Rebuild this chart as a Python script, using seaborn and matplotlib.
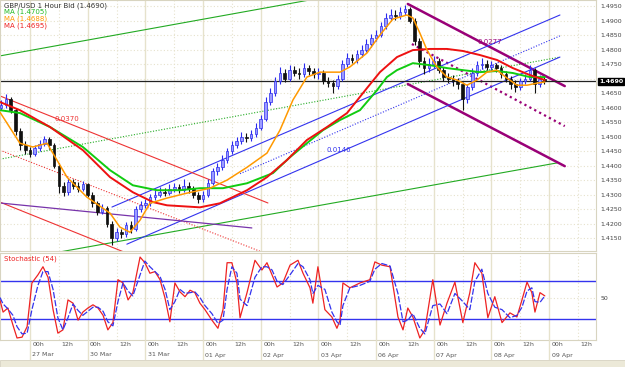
import matplotlib
matplotlib.use('agg')
import matplotlib.pyplot as plt
import matplotlib.transforms as mtransforms
from matplotlib.patches import Rectangle
import pandas as pd
import seaborn as sns

# time axis: trading hours since 27 Mar 00h (weekend skipped), 2-hour bars
bar_t = list(range(-12, 215, 2))
first_open = 1.4600
closes = [1.4610, 1.4630, 1.4590, 1.4520, 1.4470, 1.4455, 1.4440, 1.4460, 1.4475, 1.4490,
          1.4470, 1.4400, 1.4330, 1.4310, 1.4345, 1.4330, 1.4320, 1.4335, 1.4300, 1.4270,
          1.4240, 1.4255, 1.4200, 1.4150, 1.4170, 1.4165, 1.4195, 1.4180, 1.4250, 1.4265,
          1.4270, 1.4290, 1.4300, 1.4310, 1.4305, 1.4320, 1.4325, 1.4315, 1.4330, 1.4320,
          1.4300, 1.4285, 1.4300, 1.4340, 1.4380, 1.4395, 1.4420, 1.4450, 1.4470, 1.4485,
          1.4500, 1.4495, 1.4510, 1.4530, 1.4560, 1.4620, 1.4650, 1.4690, 1.4720, 1.4700,
          1.4730, 1.4720, 1.4715, 1.4735, 1.4725, 1.4715, 1.4720, 1.4690, 1.4685, 1.4675,
          1.4700, 1.4750, 1.4770, 1.4765, 1.4785, 1.4800, 1.4820, 1.4840, 1.4850, 1.4880,
          1.4910, 1.4920, 1.4915, 1.4930, 1.4940, 1.4900, 1.4830, 1.4760, 1.4735, 1.4750,
          1.4760, 1.4730, 1.4705, 1.4700, 1.4690, 1.4680, 1.4630, 1.4670, 1.4720, 1.4745,
          1.4750, 1.4740, 1.4745, 1.4735, 1.4715, 1.4700, 1.4680, 1.4670, 1.4690, 1.4700,
          1.4730, 1.4680, 1.4700, 1.4690]
highs = [1.4625, 1.4645, 1.4638, 1.4598, 1.4530, 1.4485, 1.4465, 1.4472, 1.4488, 1.4502,
         1.4498, 1.4478, 1.4410, 1.4345, 1.4358, 1.4355, 1.4342, 1.4348, 1.4340, 1.4310,
         1.4278, 1.4268, 1.4262, 1.4208, 1.4185, 1.4182, 1.4205, 1.4208, 1.4262, 1.4278,
         1.4285, 1.4302, 1.4315, 1.4325, 1.4322, 1.4335, 1.4340, 1.4336, 1.4355, 1.4342,
         1.4328, 1.4310, 1.4312, 1.4352, 1.4392, 1.4410, 1.4435, 1.4462, 1.4485, 1.4498,
         1.4515, 1.4512, 1.4522, 1.4545, 1.4575, 1.4635, 1.4668, 1.4705, 1.4740, 1.4732,
         1.4748, 1.4742, 1.4735, 1.4752, 1.4745, 1.4738, 1.4735, 1.4728, 1.4705, 1.4695,
         1.4712, 1.4765, 1.4788, 1.4785, 1.4800, 1.4815, 1.4835, 1.4855, 1.4868, 1.4895,
         1.4925, 1.4938, 1.4935, 1.4945, 1.4955, 1.4948, 1.4908, 1.4840, 1.4775, 1.4770,
         1.4778, 1.4770, 1.4740, 1.4720, 1.4712, 1.4702, 1.4688, 1.4682, 1.4735, 1.4762,
         1.4770, 1.4765, 1.4760, 1.4755, 1.4745, 1.4725, 1.4710, 1.4695, 1.4702, 1.4715,
         1.4745, 1.4738, 1.4712, 1.4708]
lows = [1.4590, 1.4600, 1.4580, 1.4505, 1.4455, 1.4440, 1.4428, 1.4432, 1.4450, 1.4468,
        1.4458, 1.4390, 1.4305, 1.4295, 1.4300, 1.4318, 1.4308, 1.4312, 1.4290, 1.4258,
        1.4230, 1.4232, 1.4188, 1.4125, 1.4140, 1.4150, 1.4155, 1.4168, 1.4175, 1.4240,
        1.4255, 1.4262, 1.4280, 1.4292, 1.4295, 1.4298, 1.4310, 1.4305, 1.4308, 1.4305,
        1.4288, 1.4272, 1.4275, 1.4292, 1.4332, 1.4368, 1.4385, 1.4410, 1.4440, 1.4460,
        1.4475, 1.4482, 1.4485, 1.4500, 1.4522, 1.4552, 1.4610, 1.4640, 1.4680, 1.4688,
        1.4692, 1.4708, 1.4700, 1.4705, 1.4712, 1.4702, 1.4700, 1.4680, 1.4670, 1.4650,
        1.4665, 1.4692, 1.4740, 1.4752, 1.4755, 1.4775, 1.4792, 1.4810, 1.4830, 1.4842,
        1.4870, 1.4900, 1.4902, 1.4905, 1.4918, 1.4890, 1.4815, 1.4740, 1.4715, 1.4722,
        1.4738, 1.4718, 1.4690, 1.4685, 1.4675, 1.4665, 1.4592, 1.4615, 1.4660, 1.4710,
        1.4732, 1.4728, 1.4725, 1.4722, 1.4702, 1.4688, 1.4665, 1.4655, 1.4660, 1.4680,
        1.4690, 1.4650, 1.4670, 1.4680]
last_price = 1.4690

# moving averages
ma_fast_t = [-12.5, -4.2, 1.2, 7.1, 15.4, 23.7, 33.3, 37.4, 41.6, 45.8, 49.9, 57.0, 65.3, 74.9,
             82.0, 90.3, 98.6, 104.0, 109.4, 115.2, 120.6, 129.0, 133.1, 140.2, 145.6, 151.0,
             156.8, 159.3, 162.2, 165.2, 169.3, 173.5, 177.6, 181.8, 186.0, 190.1, 194.3,
             198.4, 202.6, 206.8, 210.9, 214.2]
ma_fast = [1.4584, 1.4477, 1.4464, 1.4477, 1.4360, 1.4291, 1.4236, 1.4188, 1.4170, 1.4212,
           1.4270, 1.4288, 1.4305, 1.4322, 1.4350, 1.4394, 1.4443, 1.4522, 1.4626, 1.4705,
           1.4722, 1.4722, 1.4740, 1.4788, 1.4850, 1.4905, 1.4919, 1.4909, 1.4857, 1.4798,
           1.4740, 1.4705, 1.4695, 1.4677, 1.4695, 1.4722, 1.4729, 1.4702, 1.4677, 1.4677,
           1.4684, 1.4688]
ma_mid_t = [-12.5, -4.2, 8.3, 22.0, 33.3, 42.8, 52.8, 62.4, 70.7, 80.3, 90.3, 101.1, 108.2,
            115.2, 121.9, 129.0, 137.3, 144.4, 148.5, 152.7, 159.3, 166.4, 173.5, 180.1,
            187.2, 194.3, 200.9, 208.0, 214.2]
ma_mid = [1.4591, 1.4581, 1.4533, 1.4464, 1.4384, 1.4332, 1.4315, 1.4315, 1.4322, 1.4322,
          1.4339, 1.4374, 1.4429, 1.4477, 1.4522, 1.4557, 1.4591, 1.4660, 1.4705, 1.4729,
          1.4753, 1.4746, 1.4736, 1.4729, 1.4722, 1.4726, 1.4719, 1.4705, 1.4705]
ma_slow_t = [-12.5, -4.2, 8.3, 22.0, 33.3, 42.8, 51.2, 57.0, 70.7, 79.0, 90.3, 98.6, 106.9,
             115.2, 123.6, 131.9, 140.2, 145.6, 152.7, 159.3, 166.4, 173.5, 180.1, 187.2,
             194.3, 200.9, 208.0, 214.2]
ma_slow = [1.4619, 1.4591, 1.4533, 1.4453, 1.4360, 1.4308, 1.4274, 1.4263, 1.4256, 1.4270,
           1.4315, 1.4360, 1.4419, 1.4488, 1.4533, 1.4581, 1.4667, 1.4722, 1.4774, 1.4798,
           1.4802, 1.4802, 1.4795, 1.4781, 1.4764, 1.4736, 1.4712, 1.4695]
ma_labels = ['MA (1.4705)', 'MA (1.4688)', 'MA (1.4695)']

# drawn trend lines: start/end in (hours, price)
trend_names = ['green_top', 'green_low', 'green_dot', 'purple_top', 'purple_low', 'purple_mid',
               'blue_top', 'blue_low', 'blue_mid', 'red_top', 'red_low', 'red_mid', 'violet']
trend_t0 = [-12.5, 7.5, -12.5, 157.2, 157.2, 158.9, 34.1, 40.3, 87.4, -12.5, -12.5, -12.5, -12.5]
trend_p0 = [1.4778, 1.4095, 1.4422, 1.4957, 1.4681, 1.4819, 1.4257, 1.4129, 1.4372, 1.4640,
            1.4274, 1.4453, 1.4271]
trend_t1 = [116.5, 219.2, 220.5, 222.5, 222.5, 222.5, 220.5, 220.5, 220.5, 99.0, 40.3, 96.5, 92.3]
trend_p1 = [1.4971, 1.4409, 1.4774, 1.4674, 1.4398, 1.4536, 1.4919, 1.4774, 1.4847, 1.4271,
            1.4098, 1.4102, 1.4185]
trend_style = {
    'green_top': ('#22aa22', 0.8, '-'), 'green_low': ('#22aa22', 0.8, '-'),
    'green_dot': ('#22aa22', 0.8, (0, (1, 1.5))),
    'purple_top': ('#990077', 1.8, '-'), 'purple_low': ('#990077', 1.8, '-'),
    'purple_mid': ('#990077', 1.6, (0, (1, 1.5))),
    'blue_top': ('#3333ee', 0.8, '-'), 'blue_low': ('#3333ee', 0.8, '-'),
    'blue_mid': ('#3333ee', 0.8, (0, (1, 1.5))),
    'red_top': ('#ee3333', 0.8, '-'), 'red_low': ('#ee3333', 0.8, '-'),
    'red_mid': ('#ee3333', 0.8, (0, (1, 1.5))),
    'violet': ('#7733aa', 0.9, '-'),
}
trend_texts = ['0.0370', '0.0146', '0.0277']
trend_text_t = [10.4, 123.5, 186.0]
trend_text_p = [1.4560, 1.4453, 1.4826]

# stochastic (54)
stoch_t = [-12.5, -11.2, -9.2, -7.1, -5.4, -3.3, -1.2, 0.8, 3.3, 5.4, 7.5, 9.6, 11.6, 13.7, 15.8,
           17.9, 20, 22, 24.1, 26.2, 28.3, 30.4, 32.4, 34.5, 36.6, 38.7, 40.8, 42.8, 45.8, 47.8,
           49.9, 52, 54.1, 56.2, 58.2, 60.3, 62.4, 64.5, 66.6, 68.6, 70.7, 72.8, 75.7, 78.2,
           80.3, 82, 84, 86.1, 87.4, 90.3, 93.6, 96.5, 98.6, 100.7, 102.8, 105.2, 108.2, 111.5,
           113.6, 116.5, 117.7, 119.8, 122.7, 125.6, 127.7, 129, 130.2, 133.1, 137.3, 141.4,
           143.5, 146.4, 149.8, 153.1, 155.2, 157.2, 159.3, 162.2, 164.3, 167.6, 170.6, 173.5,
           176.8, 180.1, 183, 185.1, 188, 190.5, 193.4, 196.4, 199.7, 202.6, 204.7, 206.8,
           208.8, 210.1, 212.2, 214.2]
stoch_k = [47, 32, 37, 16, 0, 1, 14, 68, 78, 88, 75, 35, 6, 10, 47, 43, 22, 32, 37, 41, 37, 28,
           10, 19, 72, 68, 47, 56, 100, 93, 80, 82, 72, 49, 20, 68, 57, 51, 59, 56, 43, 35, 22,
           12, 35, 93, 93, 68, 25, 56, 96, 84, 93, 78, 63, 68, 90, 96, 80, 62, 43, 88, 35, 26,
           12, 22, 68, 62, 68, 72, 94, 90, 88, 26, 10, 37, 26, 0, 10, 72, 16, 43, 69, 19, 56,
           93, 80, 25, 51, 19, 31, 26, 47, 69, 56, 32, 56, 52]
stoch_d = [50, 42, 36, 28, 14, 5, 6, 35, 65, 82, 82, 60, 25, 10, 25, 42, 34, 28, 33, 38, 38, 33,
           20, 15, 45, 68, 58, 52, 78, 95, 88, 82, 76, 60, 35, 45, 60, 55, 56, 57, 50, 40, 30,
           18, 22, 60, 88, 80, 48, 40, 75, 88, 88, 84, 70, 66, 78, 92, 88, 72, 55, 65, 60, 32,
           20, 16, 40, 62, 65, 70, 85, 92, 89, 55, 20, 22, 30, 12, 5, 40, 42, 30, 55, 45, 35,
           70, 85, 55, 38, 35, 25, 28, 38, 58, 62, 45, 44, 52]
stoch_levels = [70, 24]

# axis labels
day_t = [0, 24, 48, 72, 96, 120, 144, 168, 192, 216]
day_labels = ['27 Mar', '30 Mar', '31 Mar', '01 Apr', '02 Apr', '03 Apr', '06 Apr', '07 Apr',
              '08 Apr', '09 Apr']
price_ticks = [1.4150, 1.4200, 1.4250, 1.4300, 1.4350, 1.4400, 1.4450, 1.4500, 1.4550,
               1.4600, 1.4650, 1.4700, 1.4750, 1.4800, 1.4850, 1.4900, 1.4950]

sns.set_theme(style='white')
plt.rcParams['font.family'] = ['DejaVu Sans']

W, H = 625, 367
right = 596
fig = plt.figure(figsize=(W / 100, H / 100), dpi=100)
fig.patch.set_facecolor('white')
ax = fig.add_axes([0, 1 - 251 / H, right / W, 251 / H])
ax2 = fig.add_axes([0, 1 - 340 / H, right / W, 87 / H])
ax3 = fig.add_axes([0, 1 - 360 / H, right / W, 20 / H])
xlim = (-12.48, 235.5)
grid_c = '#e6e2cc'

for a in (ax, ax2, ax3):
    a.set_xlim(*xlim)
    a.set_facecolor('white')
    for s in a.spines.values():
        s.set_color('#d8d4c0')
        s.set_linewidth(0.8)
    for t in day_t:
        a.axvline(t, color=grid_c, lw=1.0, zorder=0)
        if a is not ax3:
            a.axvline(t + 12, color=grid_c, lw=0.8, ls=(0, (1, 2)), zorder=0)
ax3.axis('off')

# ---- price panel
ax.set_ylim(1.41055, 1.49707)
for p in price_ticks:
    ax.axhline(p, color=grid_c, lw=0.8, ls=(0, (1, 2)), zorder=0)

for i, name in enumerate(trend_names):
    c, lw, ls = trend_style[name]
    ax.plot([trend_t0[i], trend_t1[i]], [trend_p0[i], trend_p1[i]], color=c, lw=lw, ls=ls, zorder=2)
for txt, t, p, c in zip(trend_texts, trend_text_t, trend_text_p, ['#ee3333', '#3333ee', '#990077']):
    ax.text(t, p, txt, color=c, fontsize=5, va='center', ha='left', zorder=3)

ax.axhline(last_price, color='#222222', lw=0.9, zorder=2)

opens = [first_open] + closes[:-1]
candles = pd.DataFrame({'t': bar_t, 'o': opens, 'h': highs, 'l': lows, 'c': closes})
up = candles[candles.c >= candles.o]
dn = candles[candles.c < candles.o]
for df, fc, ec in ((up, '#9c9cff', '#2a2aee'), (dn, '#111111', '#111111')):
    ax.vlines(df.t, df.l, df.h, colors=ec, lw=0.8, zorder=3)
    body = (df.c - df.o).abs().clip(lower=0.00025)
    ax.bar(df.t, body, bottom=df[['o', 'c']].min(axis=1), width=1.1, color=fc,
           edgecolor=ec, linewidth=0.5, zorder=4)

sns.lineplot(x=ma_mid_t, y=ma_mid, ax=ax, color='#11cc11', lw=1.4, estimator=None, zorder=5)
sns.lineplot(x=ma_slow_t, y=ma_slow, ax=ax, color='#ee1111', lw=1.4, estimator=None, zorder=5)
sns.lineplot(x=ma_fast_t, y=ma_fast, ax=ax, color='#ff9900', lw=1.1, estimator=None, zorder=6)

ax.yaxis.tick_right()
ax.set_yticks(price_ticks)
ax.set_yticklabels(['' if abs(p - 1.47) < 1e-6 else f'{p:.4f}' for p in price_ticks])
ax.tick_params(axis='y', length=0, pad=3, labelsize=4.5, labelcolor='#444444')
ax.tick_params(axis='x', length=0, labelbottom=False)
ax.set_xlabel('')
ax.set_ylabel('')
trans = mtransforms.blended_transform_factory(ax.transAxes, ax.transData)
ax.text(1.005, last_price, f'{last_price:.4f}', transform=trans, color='white', fontsize=4.5,
        fontweight='bold', va='center', ha='left',
        bbox=dict(boxstyle='square,pad=0.2', fc='black', ec='black'))

ax.text(0.006, 0.992, f'GBP/USD 1 Hour Bid ({last_price:.4f})', transform=ax.transAxes,
        fontsize=5, color='#333333', va='top')
for k, (lab, c) in enumerate(zip(ma_labels, ['#22bb22', '#ff9900', '#ee2222'])):
    ax.text(0.006, 0.965 - 0.027 * k, lab, transform=ax.transAxes, fontsize=5, color=c, va='top')

# ---- stochastic panel
ax2.set_ylim(-2.5, 105)
ax2.axhline(50, color=grid_c, lw=0.8, ls=(0, (1, 2)), zorder=0)
for lv in stoch_levels:
    ax2.axhline(lv, color='#3333ee', lw=1.0, zorder=2)
sns.lineplot(x=stoch_t, y=stoch_k, ax=ax2, color='#ee2222', lw=0.9, estimator=None, zorder=3)
sns.lineplot(x=stoch_t, y=stoch_d, ax=ax2, color='#3333ee', lw=0.9, ls=(0, (5, 1.5)),
             estimator=None, zorder=4)
ax2.yaxis.tick_right()
ax2.set_yticks([50])
ax2.set_yticklabels(['50'])
ax2.tick_params(axis='y', length=0, pad=3, labelsize=4.5, labelcolor='#444444')
ax2.tick_params(axis='x', length=0, labelbottom=False)
ax2.set_xlabel('')
ax2.set_ylabel('')
ax2.text(0.006, 0.97, 'Stochastic (54)', transform=ax2.transAxes, fontsize=5,
         color='#ee2222', va='top')

# ---- time labels
ax3.set_ylim(0, 1)
for t, lab in zip(day_t, day_labels):
    ax3.text(t + 1, 0.75, '00h', fontsize=4.5, color='#555555', va='center')
    ax3.text(t + 13, 0.75, '12h', fontsize=4.5, color='#555555', va='center')
    ax3.text(t + 1, 0.25, lab, fontsize=4.5, color='#555555', va='center')

fig.patches.append(Rectangle((0, 0), 1, 7 / H, transform=fig.transFigure,
                             facecolor='#ece9d8', edgecolor='#d0ccb8', lw=0.5))

fig.savefig('out.png', dpi=100)
